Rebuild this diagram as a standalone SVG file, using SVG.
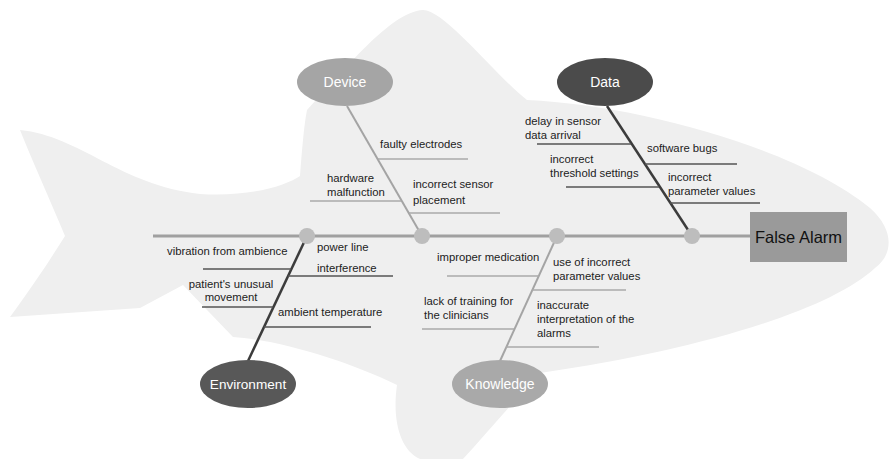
<svg xmlns="http://www.w3.org/2000/svg" width="891" height="459" viewBox="0 0 891 459">
  <style>
    .lbl { font-family: "Liberation Sans", Arial, sans-serif; font-size: 11.3px; fill: #222; }
    .cat { font-family: "Liberation Sans", Arial, sans-serif; font-size: 14px; fill: #fff; text-anchor: middle; }
    .head { font-family: "Liberation Sans", Arial, sans-serif; font-size: 16.5px; fill: #111; text-anchor: middle; }
    .spine { stroke: #a0a0a0; stroke-width: 3; fill: none; }
    .light { stroke: #a4a4a4; stroke-width: 2; fill: none; }
    .dark { stroke: #3c3c3c; stroke-width: 2.5; fill: none; }
    .sub-light { stroke: #aaaaaa; stroke-width: 1.6; fill: none; }
    .sub-dark { stroke: #555555; stroke-width: 1.6; fill: none; }
    .joint { fill: #bdbdbd; }
  </style>

  <rect width="891" height="459" fill="#ffffff"/>

  <!-- fish silhouette behind the diagram -->
  <path id="fish" fill="#efefef" d="M 20,130 C 80,136 120,185 200,194 C 250,197 285,186 300,176 C 302,150 304,125 307,110 C 345,70 390,12 423,10 C 445,10 495,75 527,100 C 640,105 800,150 870,208 C 895,230 893,255 875,268 C 830,310 700,350 540,373 C 515,400 485,435 463,459 L 420,459 C 400,450 392,420 397,385 C 350,362 280,340 233,337 L 183,285 L 140,308 L 10,317 C 30,290 50,260 65,236 C 50,200 32,160 20,130 Z"/>

  <!-- connectors: spine, category bones and cause lines -->
  <g id="connectors">
    <line class="spine" x1="153" y1="236" x2="750" y2="236"/>

    <!-- Device -->
    <line class="light" x1="347" y1="106" x2="422" y2="236"/>
    <line class="sub-light" x1="378" y1="159" x2="468" y2="159"/>
    <line class="sub-light" x1="310" y1="201" x2="401" y2="201"/>
    <line class="sub-light" x1="409" y1="213" x2="500" y2="213"/>

    <!-- Data -->
    <line class="dark" x1="607" y1="106" x2="692" y2="236"/>
    <line class="sub-dark" x1="537" y1="144" x2="631" y2="144"/>
    <line class="sub-dark" x1="645" y1="164" x2="737" y2="164"/>
    <line class="sub-dark" x1="566" y1="187" x2="659" y2="187"/>
    <line class="sub-dark" x1="670" y1="203" x2="760" y2="203"/>

    <!-- Environment -->
    <line class="dark" x1="307" y1="236" x2="248" y2="361"/>
    <line class="sub-dark" x1="203" y1="269" x2="291" y2="269"/>
    <line class="sub-dark" x1="288" y1="276" x2="393" y2="276"/>
    <line class="sub-dark" x1="202" y1="307" x2="273" y2="307"/>
    <line class="sub-dark" x1="264" y1="327" x2="371" y2="327"/>

    <!-- Knowledge -->
    <line class="light" x1="557" y1="236" x2="500" y2="361"/>
    <line class="sub-light" x1="447" y1="276" x2="539" y2="276"/>
    <line class="sub-light" x1="532" y1="290" x2="626" y2="290"/>
    <line class="sub-light" x1="422" y1="329" x2="514" y2="329"/>
    <line class="sub-light" x1="506" y1="347" x2="599" y2="347"/>

    <!-- joints on the spine -->
    <circle class="joint" cx="307" cy="236" r="8"/>
    <circle class="joint" cx="422" cy="236" r="8"/>
    <circle class="joint" cx="557" cy="236" r="8"/>
    <circle class="joint" cx="692" cy="236" r="8"/>
  </g>

  <!-- effect -->
  <g id="false-alarm">
    <rect x="750" y="212" width="97" height="50" fill="#9a9a9a"/>
    <text class="head" x="798.5" y="243">False Alarm</text>
  </g>

  <!-- categories -->
  <g id="device">
    <ellipse cx="345" cy="82" rx="48" ry="24" fill="#a5a5a5"/>
    <text class="cat" x="345" y="87">Device</text>
  </g>
  <g id="data">
    <ellipse cx="605" cy="82" rx="48" ry="24" fill="#4b4b4b"/>
    <text class="cat" x="605" y="87">Data</text>
  </g>
  <g id="environment">
    <ellipse cx="248" cy="384" rx="48" ry="24" fill="#585858"/>
    <text class="cat" x="248" y="389" style="font-size:13.6px">Environment</text>
  </g>
  <g id="knowledge">
    <ellipse cx="500" cy="384" rx="48" ry="24" fill="#a9a9a9"/>
    <text class="cat" x="500" y="389">Knowledge</text>
  </g>

  <!-- causes: Device -->
  <g id="faulty-electrodes"><text class="lbl" x="380" y="148">faulty electrodes</text></g>
  <g id="hardware-malfunction"><text class="lbl" x="327" y="182">hardware</text><text class="lbl" x="327" y="196">malfunction</text></g>
  <g id="incorrect-sensor-placement"><text class="lbl" x="413" y="188">incorrect sensor</text><text class="lbl" x="413" y="204">placement</text></g>

  <!-- causes: Data -->
  <g id="delay-in-sensor"><text class="lbl" x="525" y="125">delay in sensor</text><text class="lbl" x="525" y="139">data arrival</text></g>
  <g id="software-bugs"><text class="lbl" x="647" y="152">software bugs</text></g>
  <g id="incorrect-threshold"><text class="lbl" x="550" y="163">incorrect</text><text class="lbl" x="550" y="177">threshold settings</text></g>
  <g id="incorrect-parameters"><text class="lbl" x="668" y="181">incorrect</text><text class="lbl" x="668" y="195">parameter values</text></g>

  <!-- causes: Environment -->
  <g id="vibration"><text class="lbl" x="167" y="255">vibration from ambience</text></g>
  <g id="power-line"><text class="lbl" x="317" y="251">power line</text><text class="lbl" x="317" y="272">interference</text></g>
  <g id="patient-movement"><text class="lbl" x="231" y="288" text-anchor="middle">patient's unusual</text><text class="lbl" x="231" y="301" text-anchor="middle">movement</text></g>
  <g id="ambient-temperature"><text class="lbl" x="278" y="316">ambient temperature</text></g>

  <!-- causes: Knowledge -->
  <g id="improper-medication"><text class="lbl" x="437" y="261">improper medication</text></g>
  <g id="incorrect-parameter-use"><text class="lbl" x="553" y="266">use of incorrect</text><text class="lbl" x="553" y="280">parameter values</text></g>
  <g id="lack-of-training"><text class="lbl" x="424" y="305">lack of training for</text><text class="lbl" x="424" y="319">the clinicians</text></g>
  <g id="inaccurate-interpretation"><text class="lbl" x="537" y="309">inaccurate</text><text class="lbl" x="537" y="323">interpretation of the</text><text class="lbl" x="537" y="337">alarms</text></g>
</svg>
